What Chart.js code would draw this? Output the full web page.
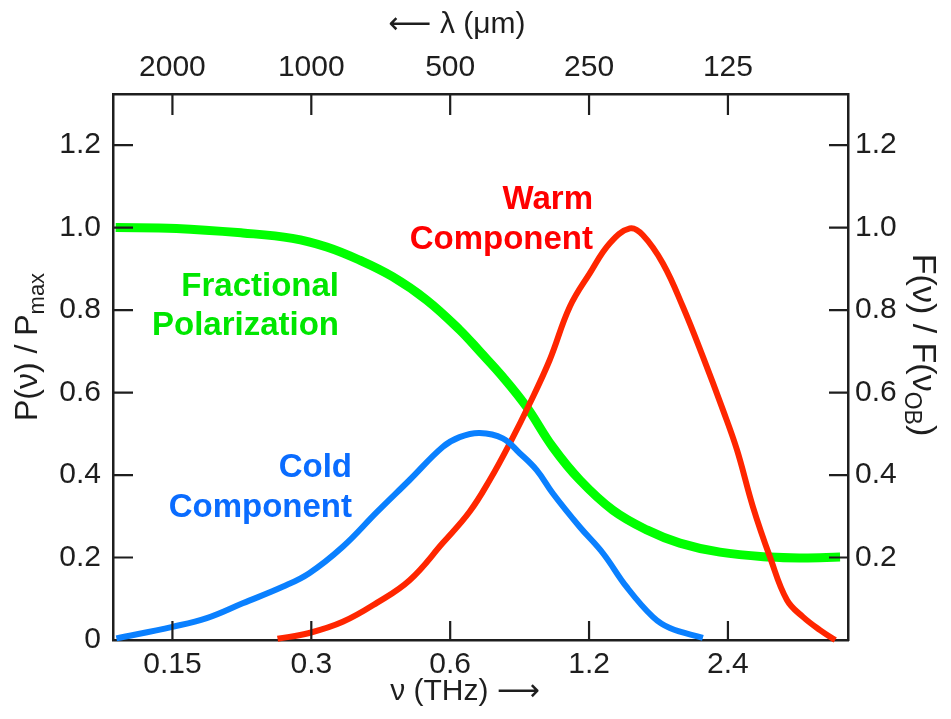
<!DOCTYPE html>
<html>
<head>
<meta charset="utf-8">
<script src="https://cdn.jsdelivr.net/npm/chart.js@4.4.0/dist/chart.umd.min.js"></script>
<style>
  html, body { margin: 0; padding: 0; background: #fff; }
</style>
</head>
<body>
<canvas id="plot" width="951" height="719"></canvas>
<script>
// frequency (THz) grid and tick labels
const freqTicks = [0.15, 0.3, 0.6, 1.2, 2.4];
const freqTickLabels = ["0.15", "0.3", "0.6", "1.2", "2.4"];
const waveTickLabels = ["2000", "1000", "500", "250", "125"];
const yTicks = [0, 0.2, 0.4, 0.6, 0.8, 1.0, 1.2];
const leftTickLabels = ["0", "0.2", "0.4", "0.6", "0.8", "1.0", "1.2"];
const rightTickLabels = ["", "0.2", "0.4", "0.6", "0.8", "1.0", "1.2"];

// fractional polarization P(nu)/Pmax
const polNu = [0.113, 0.153, 0.213, 0.273, 0.324, 0.382, 0.450, 0.534, 0.629, 0.695, 0.780,
  0.879, 1.001, 1.146, 1.351, 1.601, 1.888, 2.306, 2.961, 3.49, 4.20];
const polVal = [1.0, 0.998, 0.987, 0.974, 0.953, 0.921, 0.881, 0.824, 0.752, 0.70, 0.638,
  0.565, 0.468, 0.388, 0.315, 0.267, 0.235, 0.213, 0.201, 0.199, 0.201];

// cold component F(nu)/F(nuOB)
const coldNu = [0.1134, 0.15, 0.178, 0.213, 0.260, 0.297, 0.351, 0.416, 0.490, 0.578, 0.629,
  0.695, 0.780, 0.849, 0.924, 1.001, 1.146, 1.285, 1.449, 1.650, 1.796, 2.118];
const coldVal = [0.004, 0.032, 0.053, 0.089, 0.129, 0.162, 0.226, 0.31, 0.388, 0.468, 0.492,
  0.502, 0.489, 0.453, 0.412, 0.356, 0.274, 0.211, 0.128, 0.056, 0.029, 0.005];

// warm component F(nu)/F(nuOB)
const warmNu = [0.2535, 0.297, 0.351, 0.416, 0.490, 0.578, 0.661, 0.731, 0.808, 0.893, 0.986,
  1.090, 1.204, 1.331, 1.471, 1.569, 1.735, 1.917, 2.118, 2.341, 2.511, 2.719, 2.961, 3.222,
  3.49, 3.80, 4.10];
const warmVal = [0.003, 0.017, 0.044, 0.09, 0.145, 0.235, 0.311, 0.388, 0.477, 0.574, 0.679,
  0.808, 0.889, 0.962, 0.998, 0.982, 0.913, 0.808, 0.687, 0.558, 0.461, 0.323, 0.201, 0.097,
  0.056, 0.024, 0.0];

const nuMin = 0.1115;
const nuMax = 4.37;
const yMax = 1.324;
const ink = "#1e1e1e";
const tickFont = { family: "'Liberation Sans', Arial, sans-serif", size: 30 };

function pairs(xs, ys) {
  return xs.map((x, i) => ({ x: x, y: ys[i] }));
}

// draws text with optional subscript pieces, centred on (cx, cy)
function drawRich(ctx, parts, cx, cy, angle, size) {
  const subSize = Math.round(size * 0.68);
  ctx.save();
  ctx.translate(cx, cy);
  ctx.rotate(angle);
  ctx.textBaseline = "middle";
  ctx.textAlign = "left";
  let total = 0;
  parts.forEach(p => {
    ctx.font = (p.sub ? subSize : size) + "px 'Liberation Sans', 'DejaVu Sans', sans-serif";
    p.w = ctx.measureText(p.t).width;
    total += p.w;
  });
  let x = -total / 2;
  parts.forEach(p => {
    ctx.font = (p.sub ? subSize : size) + "px 'Liberation Sans', 'DejaVu Sans', sans-serif";
    ctx.fillText(p.t, x, p.sub ? size * 0.3 : 0);
    x += p.w;
  });
  ctx.restore();
}

// inward tick marks, axis titles and curve labels
const decorPlugin = {
  id: "decor",
  afterDraw(chart) {
    const ctx = chart.ctx;
    const a = chart.chartArea;
    const sx = chart.scales.x;
    const sy = chart.scales.y;
    ctx.save();
    ctx.strokeStyle = ink;
    ctx.lineWidth = 2.2;
    ctx.beginPath();
    freqTicks.forEach(v => {
      const px = sx.getPixelForValue(v);
      ctx.moveTo(px, a.bottom);
      ctx.lineTo(px, a.bottom - 19);
      ctx.moveTo(px, a.top);
      ctx.lineTo(px, a.top + 21);
    });
    yTicks.forEach(v => {
      if (v === 0) return;
      const py = sy.getPixelForValue(v);
      ctx.moveTo(a.left, py);
      ctx.lineTo(a.left + 20, py);
      ctx.moveTo(a.right, py);
      ctx.lineTo(a.right - 19, py);
    });
    ctx.stroke();

    ctx.fillStyle = ink;
    drawRich(ctx, [{ t: "P(\u03bd) / P" }, { t: "max", sub: true }], 28, 347, -Math.PI / 2, 32);
    drawRich(ctx, [{ t: "F(\u03bd) / F(\u03bd" }, { t: "OB", sub: true }, { t: ")" }], 922, 345, Math.PI / 2, 34);
    drawRich(ctx, [{ t: "\u27f5 \u03bb (\u03bcm)" }], 457, 25, 0, 30);
    drawRich(ctx, [{ t: "\u03bd (THz) \u27f6" }], 465, 692, 0, 30);

    ctx.font = "bold 33px 'Liberation Sans', Arial, sans-serif";
    ctx.textAlign = "right";
    ctx.textBaseline = "middle";
    ctx.fillStyle = "#00e600";
    ctx.fillText("Fractional", 339, 287);
    ctx.fillText("Polarization", 339, 326);
    ctx.fillStyle = "#0a6cff";
    ctx.fillText("Cold", 352, 468);
    ctx.fillText("Component", 352, 508);
    ctx.fillStyle = "#ff0000";
    ctx.fillText("Warm", 593, 200);
    ctx.fillText("Component", 593, 240);
    ctx.restore();
  }
};

function fixedTicks(values) {
  return function (scale) {
    scale.ticks = values.map(v => ({ value: v }));
  };
}

new Chart(document.getElementById("plot"), {
  type: "line",
  data: {
    datasets: [
      {
        label: "Cold Component",
        data: pairs(coldNu, coldVal),
        borderColor: "rgb(10, 128, 255)",
        borderWidth: 6,
        tension: 0.4,
        pointRadius: 0,
        clip: false,
        yAxisID: "y2",
      },
      {
        label: "Warm Component",
        data: pairs(warmNu, warmVal),
        borderColor: "rgb(255, 38, 0)",
        borderWidth: 6,
        tension: 0.4,
        pointRadius: 0,
        clip: false,
        yAxisID: "y2",
      },
      {
        label: "Fractional Polarization",
        data: pairs(polNu, polVal),
        borderColor: "rgb(0, 255, 0)",
        borderWidth: 9,
        tension: 0.4,
        pointRadius: 0,
        clip: false,
        yAxisID: "y",
      },
    ],
  },
  options: {
    responsive: false,
    animation: false,
    layout: { padding: 0 },
    plugins: {
      legend: { display: false },
      tooltip: { enabled: false },
    },
    scales: {
      x: {
        type: "logarithmic",
        position: "bottom",
        min: nuMin,
        max: nuMax,
        afterBuildTicks: fixedTicks(freqTicks),
        afterFit: (s) => { s.height = 79; },
        grid: { display: false, drawTicks: false },
        border: { display: true, color: ink, width: 2.5 },
        ticks: {
          autoSkip: false,
          maxRotation: 0,
          padding: 7,
          color: ink,
          font: tickFont,
          callback: (v, i) => freqTickLabels[i],
        },
      },
      x2: {
        type: "logarithmic",
        position: "top",
        min: nuMin,
        max: nuMax,
        afterBuildTicks: fixedTicks(freqTicks),
        afterFit: (s) => { s.height = 94; },
        grid: { display: false, drawTicks: false },
        border: { display: true, color: ink, width: 2.5 },
        ticks: {
          autoSkip: false,
          maxRotation: 0,
          padding: 8,
          color: ink,
          font: tickFont,
          callback: (v, i) => waveTickLabels[i],
        },
      },
      y: {
        position: "left",
        min: 0,
        max: yMax,
        afterBuildTicks: fixedTicks(yTicks),
        afterFit: (s) => { s.width = 113; },
        grid: { display: false, drawTicks: false },
        border: { display: true, color: ink, width: 2.5 },
        ticks: {
          padding: 12,
          color: ink,
          font: tickFont,
          callback: (v, i) => leftTickLabels[i],
        },
      },
      y2: {
        position: "right",
        min: 0,
        max: yMax,
        afterBuildTicks: fixedTicks(yTicks),
        afterFit: (s) => { s.width = 103; },
        grid: { display: false, drawTicks: false },
        border: { display: true, color: ink, width: 2.5 },
        ticks: {
          padding: 7,
          color: ink,
          font: tickFont,
          callback: (v, i) => rightTickLabels[i],
        },
      },
    },
  },
  plugins: [decorPlugin],
});
</script>
</body>
</html>
